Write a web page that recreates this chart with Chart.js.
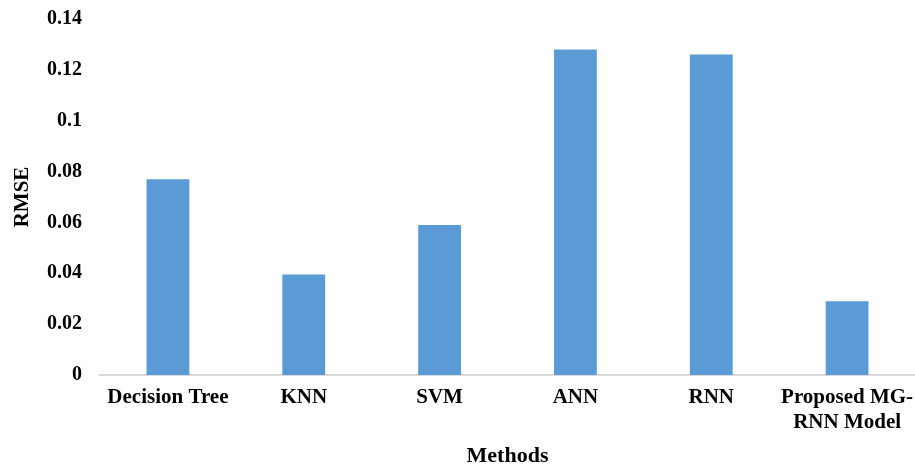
<!DOCTYPE html>
<html>
<head>
<meta charset="utf-8">
<script src="https://cdn.jsdelivr.net/npm/chart.js@4/dist/chart.umd.min.js"></script>
<style>
  html, body { margin: 0; padding: 0; background: #ffffff; }
  #wrap { width: 915px; height: 465px; }
</style>
</head>
<body>
<div id="wrap"><canvas id="chart" width="915" height="465"></canvas></div>
<script>
// RMSE of each forecasting method
const methods = ['Decision Tree', 'KNN', 'SVM', 'ANN', 'RNN', ['Proposed MG-', 'RNN Model']];
const rmse = [0.077, 0.0395, 0.059, 0.128, 0.126, 0.029];
const yTicks = [0, 0.02, 0.04, 0.06, 0.08, 0.1, 0.12, 0.14];

const serif = "'Liberation Serif', 'Times New Roman', serif";

new Chart(document.getElementById('chart'), {
  type: 'bar',
  data: {
    labels: methods,
    datasets: [{
      data: rmse,
      backgroundColor: '#5B9BD5',
      borderWidth: 0,
      categoryPercentage: 1.0,
      barPercentage: 0.315
    }]
  },
  options: {
    responsive: false,
    animation: false,
    layout: { padding: { top: 0, right: 0, bottom: 0, left: 0 } },
    plugins: { legend: { display: false }, tooltip: { enabled: false } },
    scales: {
      x: {
        afterFit: (scale) => {
          scale.height = 90;
          scale.paddingLeft = 0;
          scale.paddingRight = 0;
        },
        grid: { display: false, drawTicks: false },
        border: { display: true, color: '#D9D9D9', width: 2 },
        ticks: {
          color: '#000',
          font: { family: serif, size: 21, weight: 'bold', lineHeight: 1.15 },
          maxRotation: 0,
          autoSkip: false,
          padding: 11
        },
        title: {
          display: true,
          text: 'Methods',
          color: '#000',
          font: { family: serif, size: 22, weight: 'bold', lineHeight: 0.8 },
          padding: { top: 10, bottom: 0 }
        }
      },
      y: {
        min: 0,
        max: 0.14,
        afterBuildTicks: (scale) => { scale.ticks = yTicks.map(v => ({ value: v })); },
        afterFit: (scale) => {
          scale.width = 100;
          scale.paddingTop = 19;
          scale.paddingBottom = 0;
        },
        grid: { display: false, drawTicks: false },
        border: { display: false },
        ticks: {
          color: '#000',
          font: { family: serif, size: 20, weight: 'bold' },
          padding: 18,
          callback: (v) => String(+v.toFixed(2))
        },
        title: {
          display: true,
          text: 'RMSE',
          color: '#000',
          font: { family: serif, size: 21, weight: 'bold', lineHeight: 1 },
          padding: { top: 12, bottom: 0 }
        }
      }
    }
  }
});
</script>
</body>
</html>
